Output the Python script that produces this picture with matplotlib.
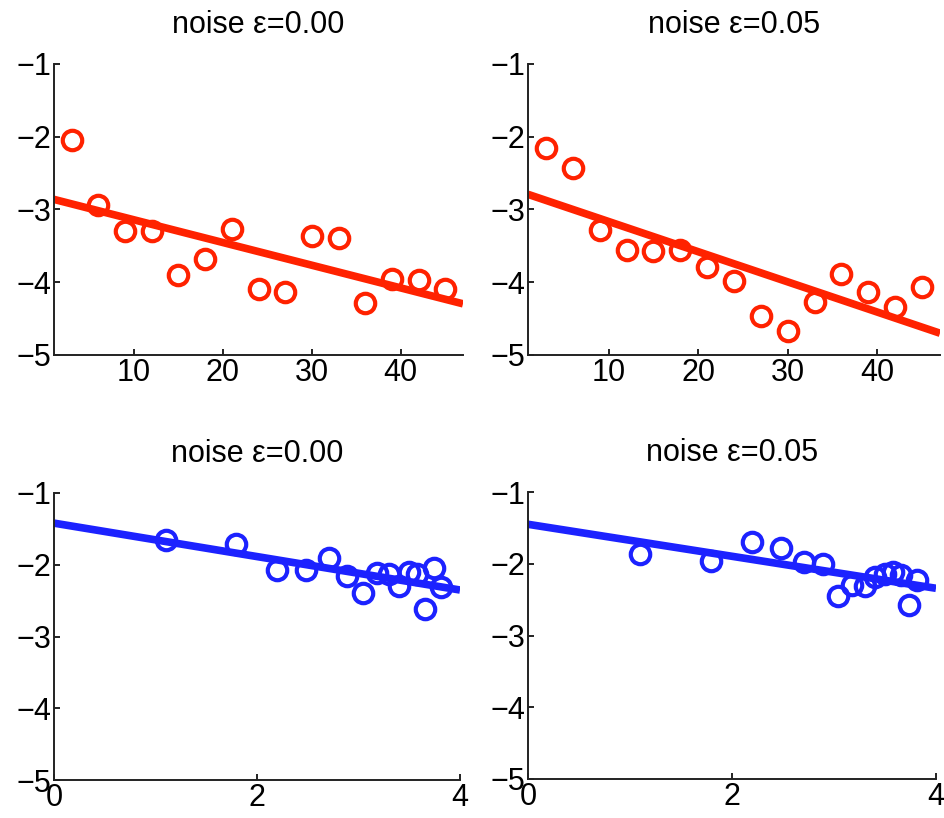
import matplotlib
matplotlib.use("Agg")
import matplotlib.pyplot as plt
import numpy as np

plt.rcParams['font.family'] = ['Liberation Sans', 'DejaVu Sans']

# ---- data ----
x_lin = [3, 6, 9, 12, 15, 18, 21, 24, 27, 30, 33, 36, 39, 42, 45]
y_tl = [-2.04, -2.94, -3.30, -3.30, -3.90, -3.68, -3.27, -4.09, -4.14,
        -3.36, -3.39, -4.29, -3.95, -3.97, -4.09]
y_tr = [-2.16, -2.43, -3.28, -3.56, -3.57, -3.55, -3.79, -3.98, -4.47,
        -4.67, -4.27, -3.89, -4.14, -4.34, -4.06]

x_log = [1.10, 1.79, 2.20, 2.48, 2.71, 2.89, 3.04, 3.18, 3.30, 3.40,
         3.50, 3.58, 3.66, 3.74, 3.81]
y_bl = [-1.66, -1.71, -2.07, -2.08, -1.91, -2.16, -2.40, -2.11, -2.13,
        -2.29, -2.10, -2.13, -2.61, -2.05, -2.31]
y_br = [-1.86, -1.96, -1.70, -1.78, -1.97, -2.01, -2.45, -2.30, -2.31,
        -2.19, -2.14, -2.11, -2.16, -2.57, -2.22]

# fitted lines: (intercept, slope)
fit_tl = (-2.83, -0.0312)
fit_tr = (-2.75, -0.0415)
fit_bl = (-1.42, -0.233)
fit_br = (-1.45, -0.223)

titles = ["noise ε=0.00", "noise ε=0.05", "noise ε=0.00", "noise ε=0.05"]

red = '#ff2200'
blue = '#1c22ff'

fig = plt.figure(figsize=(9.45, 8.18), dpi=100)
W, H = 945, 818

def add_ax(l, r, t, b):
    return fig.add_axes([l / W, 1 - b / H, (r - l) / W, (b - t) / H])

axes = [
    add_ax(54, 463, 64, 355),
    add_ax(528, 940, 64, 355),
    add_ax(54, 460, 493, 780),
    add_ax(528, 936, 492, 779),
]

panels = [
    (x_lin, y_tl, fit_tl, red, (1.0, 47.0), [10, 20, 30, 40]),
    (x_lin, y_tr, fit_tr, red, (1.0, 47.0), [10, 20, 30, 40]),
    (x_log, y_bl, fit_bl, blue, (0.0, 4.0), [0, 2, 4]),
    (x_log, y_br, fit_br, blue, (0.0, 4.0), [0, 2, 4]),
]

for ax, (xs, ys, fit, col, xl, xt), title in zip(axes, panels, titles):
    ax.plot(xs, ys, linestyle='none', marker='o', markersize=14,
            markerfacecolor='none', markeredgecolor=col, markeredgewidth=3,
            clip_on=False, zorder=3)
    lx = np.array(xl)
    ax.plot(lx, fit[0] + fit[1] * lx, color=col, linewidth=5.5,
            solid_capstyle='butt', zorder=2)
    ax.set_xlim(*xl)
    ax.set_ylim(-5, -1)
    ax.set_xticks(xt)
    ax.set_yticks([-1, -2, -3, -4, -5])
    ax.set_yticklabels(['\u22121', '\u22122', '\u22123', '\u22124', '\u22125'])
    ax.set_xticklabels([str(v) for v in xt])
    for s in ['top', 'right']:
        ax.spines[s].set_visible(False)
    for s in ['left', 'bottom']:
        ax.spines[s].set_linewidth(1.4)
        ax.spines[s].set_color('#222222')
    ax.tick_params(direction='in', length=4, width=1.4, colors='#222222',
                   labelsize=22, pad=2, labelcolor='black')
    ax.set_title(title, fontsize=22, pad=22)
    ax.set_facecolor('white')

fig.savefig('out.png', dpi=100, facecolor='white')
